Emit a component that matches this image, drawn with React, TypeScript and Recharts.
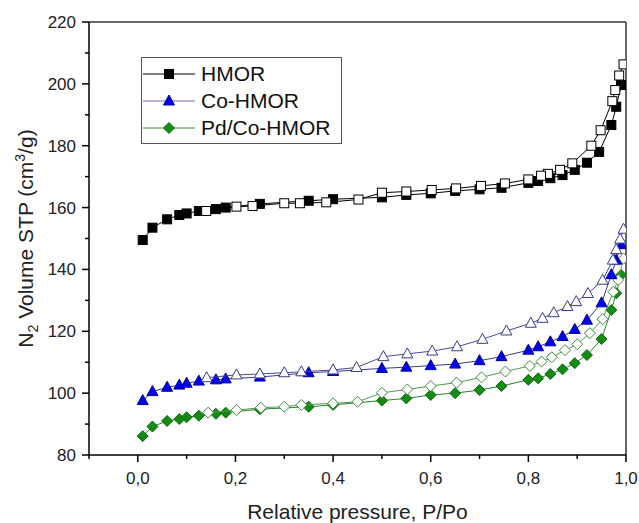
import React from 'react';
import { ScatterChart, Scatter, XAxis, YAxis, ReferenceLine } from 'recharts';

const hmorAds = [
  [0.01, 149.5], [0.03, 153.5], [0.06, 156.2], [0.085, 157.6], [0.1, 158.1], [0.125, 158.9],
  [0.16, 159.5], [0.18, 160.0], [0.25, 161.2], [0.35, 162.2], [0.4, 162.7], [0.5, 163.3],
  [0.55, 164.1], [0.6, 164.6], [0.65, 165.4], [0.7, 165.9], [0.745, 166.4], [0.8, 168.0],
  [0.82, 168.6], [0.845, 169.5], [0.87, 170.5], [0.895, 172.2], [0.92, 174.5], [0.945, 178.0],
  [0.97, 186.7], [0.98, 192.6], [0.99, 199.6],
];
const hmorDes = [
  [0.995, 206.3], [0.986, 202.7], [0.978, 198.0], [0.972, 194.4], [0.948, 185.0], [0.929, 180.0],
  [0.89, 174.3], [0.865, 172.2], [0.84, 170.9], [0.826, 170.3], [0.8, 169.1], [0.752, 167.8],
  [0.703, 167.0], [0.652, 166.2], [0.602, 165.7], [0.55, 165.2], [0.5, 164.8], [0.452, 162.6],
  [0.386, 161.7], [0.332, 161.4], [0.3, 161.4], [0.235, 160.5], [0.202, 160.3], [0.14, 158.9],
];
const coAds = [
  [0.01, 97.6], [0.03, 100.5], [0.06, 101.9], [0.085, 102.6], [0.1, 103.2], [0.125, 103.9],
  [0.16, 104.3], [0.18, 104.6], [0.25, 105.2], [0.35, 106.6], [0.4, 107.0], [0.5, 108.0],
  [0.55, 108.4], [0.6, 108.9], [0.65, 109.4], [0.7, 110.5], [0.745, 111.8], [0.8, 113.9],
  [0.82, 115.0], [0.845, 116.6], [0.87, 118.3], [0.895, 120.6], [0.92, 123.6], [0.95, 129.2],
  [0.97, 138.3], [0.98, 143.0], [0.99, 148.0],
];
const coDes = [
  [0.995, 153.0], [0.988, 149.8], [0.98, 146.4], [0.973, 143.0], [0.952, 136.5], [0.922, 132.2],
  [0.898, 129.6], [0.88, 128.0], [0.852, 126.0], [0.829, 124.2], [0.805, 122.6], [0.755, 120.1],
  [0.706, 117.4], [0.654, 115.0], [0.603, 113.6], [0.552, 112.7], [0.503, 111.8], [0.448, 108.3],
  [0.4, 107.5], [0.335, 106.9], [0.3, 106.6], [0.25, 106.2], [0.202, 105.9], [0.141, 105.0],
];
const pdAds = [
  [0.01, 86.1], [0.03, 89.2], [0.06, 91.0], [0.085, 91.6], [0.1, 92.2], [0.125, 92.7],
  [0.16, 93.3], [0.18, 93.7], [0.25, 94.8], [0.35, 95.6], [0.4, 96.2], [0.5, 97.6],
  [0.55, 98.3], [0.6, 99.4], [0.65, 100.0], [0.7, 101.0], [0.745, 102.3], [0.8, 104.3],
  [0.82, 104.8], [0.845, 106.2], [0.87, 107.7], [0.895, 109.7], [0.92, 112.3], [0.95, 117.5],
  [0.97, 126.9], [0.98, 132.3], [0.99, 138.2],
];
const pdDes = [
  [0.995, 143.5], [0.984, 136.6], [0.974, 132.8], [0.952, 123.9], [0.926, 119.4], [0.9, 115.8],
  [0.875, 113.9], [0.848, 111.6], [0.827, 110.2], [0.803, 108.8], [0.753, 107.0], [0.704, 105.1],
  [0.653, 103.4], [0.6, 102.3], [0.552, 101.2], [0.5, 100.1], [0.45, 97.2], [0.4, 96.7],
  [0.335, 96.2], [0.3, 95.6], [0.252, 95.3], [0.202, 94.5], [0.144, 93.7],
];

const xTicks = [-0.1, 0, 0.1, 0.2, 0.3, 0.4, 0.5, 0.6, 0.7, 0.8, 0.9, 1.0];
const yTicks = [80, 90, 100, 110, 120, 130, 140, 150, 160, 170, 180, 190, 200, 210, 220];
const legendNames = ['HMOR', 'Co-HMOR', 'Pd/Co-HMOR'];

const FONT = "Arial, 'Liberation Sans', sans-serif";

const toPts = (arr: number[][]) => arr.map(([x, y]) => ({ x, y }));

const Square = ({ cx, cy, fill, stroke }: any) => (
  <rect x={cx - 4.5} y={cy - 4.5} width={9} height={9} fill={fill} stroke={stroke} strokeWidth={1} />
);
const Triangle = ({ cx, cy, fill, stroke }: any) => (
  <polygon points={`${cx},${cy - 6} ${cx + 5.5},${cy + 4} ${cx - 5.5},${cy + 4}`} fill={fill} stroke={stroke} strokeWidth={1} />
);
const Diamond = ({ cx, cy, fill, stroke }: any) => (
  <polygon points={`${cx},${cy - 5.5} ${cx + 5.5},${cy} ${cx},${cy + 5.5} ${cx - 5.5},${cy}`} fill={fill} stroke={stroke} strokeWidth={1} />
);

const XTick = ({ x, y, payload }: any) => {
  const v = payload.value;
  const major = Math.abs(Math.round(v * 10)) % 2 === 0;
  return (
    <g>
      <line x1={x} x2={x} y1={y} y2={y + (major ? 7 : 4)} stroke="#000" strokeWidth={1.5} />
      {major && (
        <text x={x} y={y + 29} textAnchor="middle" fontSize={17} fontFamily={FONT} fill="#222">
          {v.toFixed(1).replace('.', ',')}
        </text>
      )}
    </g>
  );
};

const YTick = ({ x, y, payload }: any) => {
  const v = payload.value;
  const major = v % 20 === 0;
  return (
    <g>
      <line x1={x} x2={x - (major ? 7 : 4)} y1={y} y2={y} stroke="#000" strokeWidth={1.5} />
      {major && (
        <text x={x - 13} y={y + 6} textAnchor="end" fontSize={17} fontFamily={FONT} fill="#222">
          {v}
        </text>
      )}
    </g>
  );
};

const YTitle = ({ viewBox }: any) => {
  const cy = viewBox.y + viewBox.height / 2;
  return (
    <text transform={`translate(33, ${cy}) rotate(-90)`} textAnchor="middle" fontSize={21} fontFamily={FONT} fill="#222">
      N<tspan dy={5} fontSize={14}>2</tspan>
      <tspan dy={-5}> Volume STP (cm</tspan>
      <tspan dy={-8} fontSize={14}>3</tspan>
      <tspan dy={8}>/g)</tspan>
    </text>
  );
};

const XTitle = ({ viewBox }: any) => (
  <text x={viewBox.x + viewBox.width / 2} y={viewBox.y + 64} textAnchor="middle" fontSize={21} fontFamily={FONT} fill="#222">
    Relative pressure, P/Po
  </text>
);

const LegendBox = () => {
  const icons = [
    <Square cx={26} cy={13} fill="#000" stroke="#000" />,
    <Triangle cx={26} cy={13} fill="#0000ee" stroke="#0000aa" />,
    <Diamond cx={26} cy={13} fill="#138a13" stroke="#0d6d0d" />,
  ];
  const lineColors = ['#000', '#6a6ab0', '#3c8c3c'];
  return (
    <div
      style={{
        position: 'absolute', left: 141, top: 57, width: 199, height: 85,
        border: '1px solid #555', background: '#fff', fontFamily: FONT, fontSize: 21, color: '#111',
      }}
    >
      {legendNames.map((name, i) => (
        <div key={name} style={{ position: 'absolute', left: 1, top: 3 + i * 27, height: 26, display: 'flex', alignItems: 'center' }}>
          <svg width={54} height={26}>
            <line x1={0} x2={52} y1={13} y2={13} stroke={lineColors[i]} strokeWidth={1} />
            {icons[i]}
          </svg>
          <span style={{ marginLeft: 4, lineHeight: '26px' }}>{name}</span>
        </div>
      ))}
    </div>
  );
};

export default function App() {
  return (
    <div style={{ position: 'relative', width: 639, height: 523 }}>
      <style>{'html, body { margin: 0; padding: 0; overflow: hidden; }'}</style>
      <ScatterChart width={639} height={523} margin={{ top: 22, right: 13, bottom: 0, left: 0 }}>
        <XAxis
          type="number"
          dataKey="x"
          domain={[-0.1, 1.0]}
          ticks={xTicks}
          interval={0}
          height={68}
          tickSize={0}
          tickMargin={0}
          tickLine={false}
          tick={<XTick />}
          axisLine={{ stroke: '#000', strokeWidth: 1.5 }}
          allowDataOverflow
          label={<XTitle />}
        />
        <YAxis
          type="number"
          dataKey="y"
          domain={[80, 220]}
          ticks={yTicks}
          interval={0}
          width={89}
          tickSize={0}
          tickMargin={0}
          tickLine={false}
          tick={<YTick />}
          axisLine={{ stroke: '#000', strokeWidth: 1.5 }}
          allowDataOverflow
          label={<YTitle />}
        />
        <ReferenceLine y={220} stroke="#333" strokeWidth={1.5} />
        <ReferenceLine x={1.0} stroke="#333" strokeWidth={1.5} />

        <Scatter data={toPts(pdAds)} line={{ stroke: '#2f7f2f', strokeWidth: 1 }} shape={(p: any) => <Diamond {...p} fill="#138a13" stroke="#0d6d0d" />} isAnimationActive={false} />
        <Scatter data={toPts(pdDes)} line={{ stroke: '#4f9a4f', strokeWidth: 1 }} shape={(p: any) => <Diamond {...p} fill="#fff" stroke="#3f8a3f" />} isAnimationActive={false} />
        <Scatter data={toPts(coAds)} line={{ stroke: '#3a3a8e', strokeWidth: 1 }} shape={(p: any) => <Triangle {...p} fill="#0000ee" stroke="#0000aa" />} isAnimationActive={false} />
        <Scatter data={toPts(coDes)} line={{ stroke: '#4a4a96', strokeWidth: 1 }} shape={(p: any) => <Triangle {...p} fill="#fff" stroke="#3a3a8e" />} isAnimationActive={false} />
        <Scatter data={toPts(hmorAds)} line={{ stroke: '#000', strokeWidth: 1 }} shape={(p: any) => <Square {...p} fill="#000" stroke="#000" />} isAnimationActive={false} />
        <Scatter data={toPts(hmorDes)} line={{ stroke: '#000', strokeWidth: 1 }} shape={(p: any) => <Square {...p} fill="#fff" stroke="#000" />} isAnimationActive={false} />
      </ScatterChart>
      <LegendBox />
    </div>
  );
}
